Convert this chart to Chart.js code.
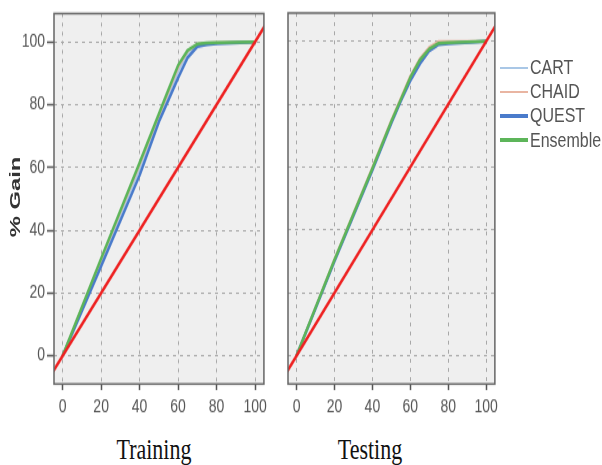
<!DOCTYPE html>
<html>
<head>
<meta charset="utf-8">
<script src="https://cdn.jsdelivr.net/npm/chart.js@4.4.1/dist/chart.umd.min.js"></script>
<style>
  body { margin: 0; background: #fff; width: 602px; height: 465px; position: relative; overflow: hidden; font-family: "Liberation Sans", Arial, sans-serif; }
  canvas { position: absolute; top: 0; }
  .caption { position: absolute; top: 439px; width: 120px; height: 22px; line-height: 22px; text-align: center;
             font-family: "Liberation Serif", "Times New Roman", serif; font-size: 22px; color: #111; transform: scaleY(1.35); }
  #yTitle { position: absolute; left: -35px; top: 189px; width: 100px; height: 16px; line-height: 16px; text-align: center;
            font-weight: bold; font-size: 14px; color: #333; transform: rotate(-90deg) scaleX(1.7); }
  .legItem { position: absolute; left: 500px; height: 16px; }
  .legLine { position: absolute; left: 0; width: 28px; }
  .legText { position: absolute; left: 30px; top: 0; line-height: 16px; font-size: 16px; color: #555; white-space: nowrap; transform: scaleY(1.3); }
</style>
</head>
<body>
<canvas id="trainChart" width="272" height="323" style="left:0px;width:272px;height:420px"></canvas>
<canvas id="testChart" width="223" height="323" style="left:280px;width:223px;height:420px"></canvas>
<div id="yTitle">% Gain</div>
<div class="caption" style="left:94px">Training</div>
<div class="caption" style="left:310px">Testing</div>
<div id="legend"></div>
<script>
// axis ticks
const xTicks = [0, 20, 40, 60, 80, 100];
const yTicks = [0, 20, 40, 60, 80, 100];

// % of records (x) shared by every gain curve
const pct = [0, 20, 40, 50, 55, 60, 65, 70, 75, 80, 100];

// diagonal (baseline)
const diagX = [-5, 105];
const diagY = [-5, 105];

const models = ["CART", "CHAID", "QUEST", "Ensemble"];
const modelColors = ["#a9c7e6", "#e9b5a2", "#4a7bcb", "#5db55a"];
const modelWidths = [2, 2, 2.5, 2.5];

// Training gains
const trainCART     = [0, 30, 59.5, 75.5, 83, 90.5, 96.5, 99.2, 99.5, 99.6, 100];
const trainCHAID    = [0, 30.6, 60.8, 76.3, 84, 91.8, 97, 99.3, 99.6, 99.7, 100];
const trainQUEST    = [0, 28.6, 57.5, 74.5, 81.5, 88.5, 95, 98.5, 99.1, 99.4, 100];
const trainEnsemble = [0, 31, 61.5, 77, 84.8, 92.5, 97.3, 99.3, 99.6, 99.7, 100];

// Testing gains
const testCART      = [0, 30.3, 59.3, 74.3, 81.3, 88, 93.5, 97.3, 99.2, 99.4, 100];
const testCHAID     = [0, 30.8, 60, 75, 82, 89, 94.5, 98.2, 100, 100, 100];
const testQUEST     = [0, 30, 59, 74, 81, 87.5, 92.8, 97, 99, 99.3, 100];
const testEnsemble  = [0, 30.5, 59.5, 74.5, 81.5, 88.5, 94, 97.6, 99.4, 99.6, 100];

// canvas is drawn short and stretched vertically by CSS, like the source image
const S = 420 / 323;

Chart.defaults.font.family = '"Liberation Sans", Arial, sans-serif';
Chart.defaults.color = "#555";

// grey plot background + dark frame round the plot area
const plotFrame = {
  id: "plotFrame",
  beforeDraw(chart) {
    const { ctx, chartArea: a } = chart;
    ctx.save();
    ctx.fillStyle = "#efefef";
    ctx.fillRect(a.left, a.top, a.width, a.height);
    ctx.restore();
  },
  afterDraw(chart) {
    const { ctx, chartArea: a } = chart;
    ctx.save();
    ctx.strokeStyle = "#666";
    ctx.lineWidth = 1.5;
    ctx.strokeRect(a.left, a.top, a.width, a.height);
    ctx.restore();
  }
};

function toPoints(xs, ys) {
  return xs.map((x, i) => ({ x: x, y: ys[i] }));
}

function makeDatasets(series) {
  // index 0 is drawn on top
  const sets = [{
    label: "Baseline",
    data: toPoints(diagX, diagY),
    borderColor: "#ee2222",
    borderWidth: 2.5
  }];
  [3, 2, 1, 0].forEach(i => {
    sets.push({
      label: models[i],
      data: toPoints(pct, series[i]),
      borderColor: modelColors[i],
      borderWidth: modelWidths[i]
    });
  });
  return sets;
}

function makeChart(id, series, showY, padding) {
  return new Chart(document.getElementById(id), {
    type: "line",
    data: { datasets: makeDatasets(series) },
    options: {
      responsive: false,
      animation: false,
      layout: { padding: padding },
      elements: { point: { radius: 0 }, line: { tension: 0, borderJoinStyle: "round", fill: false } },
      plugins: { legend: { display: false }, tooltip: { enabled: false } },
      scales: {
        x: {
          type: "linear",
          min: -4.5,
          max: 104.6,
          afterBuildTicks: s => { s.ticks = xTicks.map(v => ({ value: v })); },
          afterFit: s => { s.height = 323 - 384 / S; },
          ticks: { color: "#555", font: { size: 14 }, padding: 5, maxRotation: 0, autoSkip: false },
          grid: { color: "#a8a8a8", lineWidth: 1, tickLength: 6 / S, tickColor: "#555", tickWidth: 1.5, tickBorderDash: [] },
          border: { display: false, dash: [3, 4] }
        },
        y: {
          type: "linear",
          min: -9,
          max: 109,
          afterBuildTicks: s => { s.ticks = yTicks.map(v => ({ value: v })); },
          afterFit: s => { s.width = showY ? 54 : 0; },
          ticks: { display: showY, color: "#555", font: { size: 14 }, padding: 2 },
          grid: { color: "#a8a8a8", lineWidth: 1, drawTicks: showY, tickLength: 7, tickColor: "#555", tickWidth: 1.5, tickBorderDash: [] },
          border: { display: false, dash: [3, 4] }
        }
      }
    },
    plugins: [plotFrame]
  });
}

makeChart("trainChart", [trainCART, trainCHAID, trainQUEST, trainEnsemble], true,
  { left: 0, right: 6, top: 13 / S, bottom: 0 });
makeChart("testChart", [testCART, testCHAID, testQUEST, testEnsemble], false,
  { left: 8, right: 4, top: 13 / S, bottom: 0 });

// legend
const legend = document.getElementById("legend");
const legendTops = [68, 92, 116, 140];
models.forEach((name, i) => {
  const item = document.createElement("div");
  item.className = "legItem";
  item.style.top = (legendTops[i] - 8) + "px";
  const line = document.createElement("div");
  line.className = "legLine";
  const h = i < 2 ? 2.5 : 3.5;
  line.style.height = h + "px";
  line.style.top = (8 - h / 2) + "px";
  line.style.background = modelColors[i];
  const txt = document.createElement("div");
  txt.className = "legText";
  txt.textContent = name;
  item.appendChild(line);
  item.appendChild(txt);
  legend.appendChild(item);
});
</script>
</body>
</html>
